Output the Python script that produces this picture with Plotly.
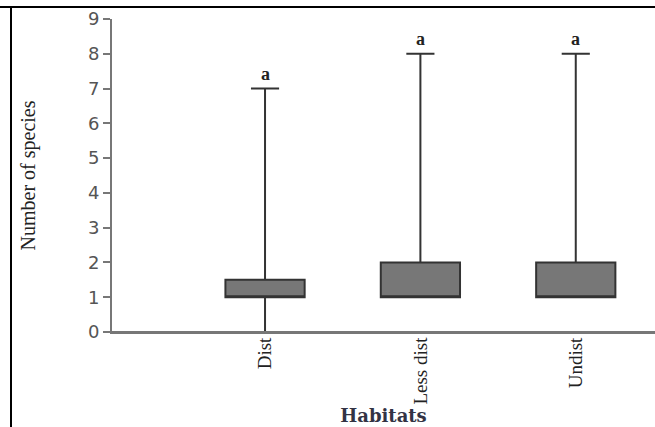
import plotly.graph_objects as go

habitats = ["Dist", "Less dist", "Undist"]
lower = [0, 1, 1]
q1 = [1, 1, 1]
median = [1, 1, 1]
q3 = [1.5, 2, 2]
upper = [7, 8, 8]
letters = ["a", "a", "a"]

fig = go.Figure()
fig.add_trace(go.Box(
    x=habitats, q1=q1, median=median, q3=q3,
    lowerfence=lower, upperfence=upper,
    width=0.51, whiskerwidth=0.355,
    fillcolor="#777777",
    line=dict(color="#333333", width=2),
    boxpoints=False, showlegend=False, hoverinfo="skip",
))

for h, u, t in zip(habitats, upper, letters):
    fig.add_annotation(x=h, y=u, text="<b>%s</b>" % t, showarrow=False,
                       yanchor="bottom", yshift=3,
                       font=dict(family="Liberation Serif", size=18, color="#222222"))

W, H = 655, 427
ml, mr, mt, mb = 112, 0, 19, 95
pw, ph = W - ml - mr, H - mt - mb

def px_x(p):
    return (p - ml) / pw

def px_y(p):
    return (H - mb - p) / ph

# outer frame lines of the original figure
fig.add_shape(type="line", xref="paper", yref="paper",
              x0=px_x(0), x1=px_x(W), y0=px_y(7), y1=px_y(7),
              line=dict(color="black", width=2))
fig.add_shape(type="line", xref="paper", yref="paper",
              x0=px_x(11), x1=px_x(11), y0=px_y(7), y1=px_y(H),
              line=dict(color="black", width=2))
# redraw x-axis baseline above the marks so the whisker just meets the axis
fig.add_shape(type="line", xref="paper", yref="y", layer="above",
              x0=0, x1=1, y0=0, y1=0,
              line=dict(color="#777777", width=2))

fig.update_layout(
    width=W, height=H,
    margin=dict(l=ml, r=mr, t=mt, b=mb, autoexpand=False),
    paper_bgcolor="white", plot_bgcolor="white",
    xaxis=dict(
        type="category", range=[-0.985, 2.51],
        showline=True, linecolor="#777777", linewidth=2,
        showgrid=False, zeroline=False, ticks="",
        tickangle=-90, automargin=False, ticklabelstandoff=-4,
        tickfont=dict(family="Liberation Serif", size=19, color="#222222"),
        title=dict(text="<b>Habitats</b>", standoff=0,
                   font=dict(family="DejaVu Serif", size=18, color="#333344")),
    ),
    yaxis=dict(
        range=[0, 9], dtick=1, automargin=False,
        showline=True, linecolor="#777777", linewidth=2,
        showgrid=False, zeroline=False,
        ticks="outside", ticklen=7, tickwidth=2, tickcolor="#777777",
        tickfont=dict(family="DejaVu Sans", size=18, color="#555555"),
        title=dict(text="Number of species", standoff=47,
                   font=dict(family="Liberation Serif", size=20, color="#222222")),
    ),
)

fig.write_html("out.html", config={"displayModeBar": False},
               post_script="document.body.style.margin='0';document.body.style.overflow='hidden';")
